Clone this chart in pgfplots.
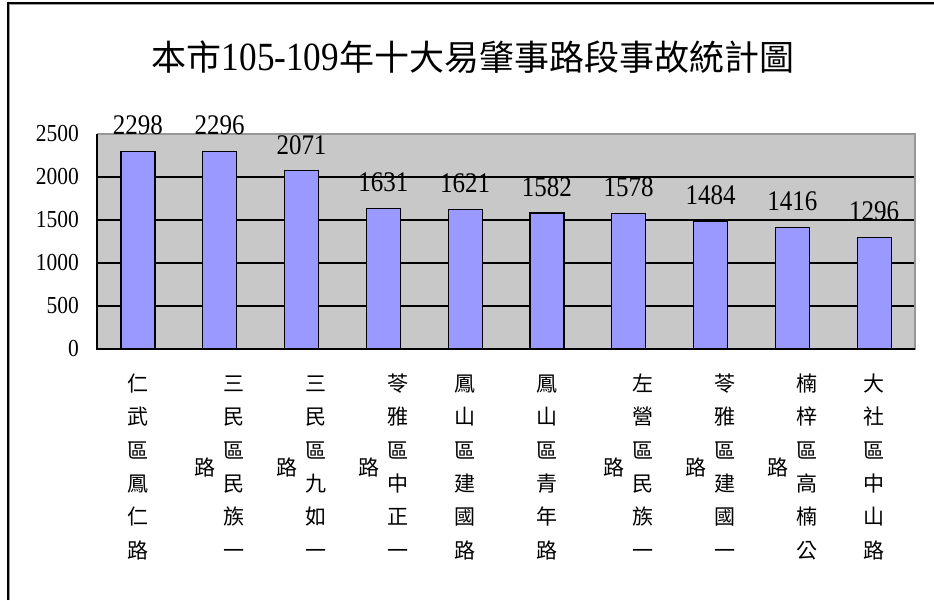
\documentclass[border=0pt]{standalone}
\usepackage{pgfplots}
\pgfplotsset{compat=1.18}
\usepackage{fontspec}
\newfontfamily\cjk{Noto Sans CJK TC}
\newfontfamily\numfont[FakeStretch=0.88]{Liberation Serif}
\definecolor{barblue}{RGB}{153,153,255}
\definecolor{plotgray}{RGB}{200,200,200}
\definecolor{bordergray}{RGB}{150,150,150}
\newcommand\col[6]{\begin{tabular}{@{}c@{}}#1\\#2\\#3\\#4\\#5\\#6\end{tabular}}
\newcommand\two[7]{\begin{tabular}{@{}c@{\hspace{7.5pt}}c@{}}\raisebox{-2pt}{#7}&\col{#1}{#2}{#3}{#4}{#5}{#6}\end{tabular}}
\begin{document}
\begin{tikzpicture}
\path[use as bounding box] (0,0) rectangle (934pt,600pt);
\fill[white] (0,0) rectangle (934pt,600pt);
% frame (left and top)
\draw[line width=2pt,black] (7.5pt,0) -- (7.5pt,597pt) -- (934pt,597pt);
\draw[line width=1pt,black!40] (9.5pt,0) -- (9.5pt,595.5pt) -- (934pt,595.5pt);
\node[font=\cjk\fontsize{35}{35}\selectfont, inner sep=0pt] at (473pt,543pt)
  {本市{\numfont\fontsize{40}{40}\selectfont 105-109}年十大易肇事路段事故統計圖};
\begin{axis}[
  at={(97pt,251pt)}, anchor=south west,
  scale only axis, width=818pt, height=215pt,
  xmin=0.5, xmax=10.5, ymin=0, ymax=2500,
  axis background/.style={fill=plotgray},
  axis line style={draw=bordergray, line width=1pt},
  ybar, bar width=34pt,
  ytick={0,500,1000,1500,2000,2500},
  ymajorgrids, major grid style={black, line width=1.3pt},
  tick align=inside,
  major tick style={black, line width=1.2pt},
  minor tick style={black, line width=1.2pt},
  major tick length=6pt, minor tick length=6pt,
  xtick={1,...,10},
  x tick style={draw=none},
  extra x ticks={0.5,1.5,...,10.5},
  extra x tick labels={},
  extra x tick style={major tick style={black, line width=1.2pt}, grid=none, major tick length=6pt},
  yticklabel style={font=\numfont\fontsize{24.4}{24.4}\selectfont, anchor=east, inner sep=0pt, xshift=-18pt},
  /pgf/number format/assume math mode=true,
  /pgf/number format/1000 sep={},
  xticklabels={
    \col{仁}{武}{區}{鳳}{仁}{路},
    \two{三}{民}{區}{民}{族}{一}{路},
    \two{三}{民}{區}{九}{如}{一}{路},
    \two{苓}{雅}{區}{中}{正}{一}{路},
    \col{鳳}{山}{區}{建}{國}{路},
    \col{鳳}{山}{區}{青}{年}{路},
    \two{左}{營}{區}{民}{族}{一}{路},
    \two{苓}{雅}{區}{建}{國}{一}{路},
    \two{楠}{梓}{區}{高}{楠}{公}{路},
    \col{大}{社}{區}{中}{山}{路}},
  xticklabel style={font=\cjk\fontsize{21}{33.3}\selectfont, anchor=north, inner sep=0pt, yshift=-19pt},
  nodes near coords,
  every node near coord/.append style={font=\numfont\fontsize{28.4}{28.4}\selectfont, anchor=south, inner sep=0pt, yshift=16pt, text=black},
  clip=false,
]
\addplot[fill=barblue, draw=black, line width=1.2pt] coordinates {
  (1,2298) (2,2296) (3,2071) (4,1631) (5,1621)
  (6,1582) (7,1578) (8,1484) (9,1416) (10,1296)};
\draw[bordergray, line width=1.5pt] (rel axis cs:0,1) -- (rel axis cs:1,1) -- (rel axis cs:1,0);
\draw[black, line width=2pt] (rel axis cs:0,1) -- (rel axis cs:0,0) -- (rel axis cs:1,0);
\end{axis}
\end{tikzpicture}
\end{document}
